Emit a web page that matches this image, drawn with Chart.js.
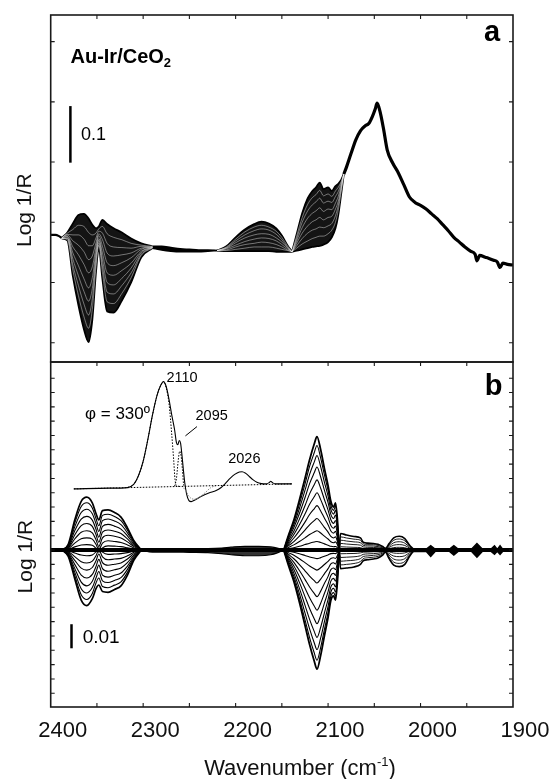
<!DOCTYPE html>
<html>
<head>
<meta charset="utf-8">
<script src="https://cdn.jsdelivr.net/npm/chart.js@4.4.1/dist/chart.umd.min.js"></script>
<style>
  html, body { margin: 0; padding: 0; background: #fff; }
  #wrap { position: relative; width: 552px; height: 779px; }
  #wrap canvas { position: absolute; left: 0; top: 0; }
</style>
</head>
<body>
<div id="wrap">
  <canvas id="panelA" width="552" height="779"></canvas>
  <canvas id="panelB" width="552" height="779"></canvas>
</div>
<script>
// ---- axes ----
const xTickLabels = [2400, 2300, 2200, 2100, 2000, 1900];
const xMinorTicks = [2350, 2300, 2250, 2200, 2150, 2100, 2050, 2000, 1950];
const aTicks = [-2, -1, 0, 1, 2, 3];
const bTicks = [-10, -9, -8, -7, -6, -5, -4, -3, -2, -1, 0, 1, 2, 3, 4, 5, 6, 7, 8, 9, 10, 11, 12];

// ---- panel a (Log 1/R, arbitrary tick units) ----
const aLeftWn = [2400, 2395, 2391, 2388];
const aLeftVal = [-0.21, -0.21, -0.23, -0.26];

const aBandAWn = [2388, 2382, 2376, 2370, 2364, 2359, 2355, 2351, 2348, 2344, 2339, 2332, 2323, 2313, 2302, 2290];
const aBandATop = [-0.26, -0.17, -0.02, 0.12, 0.14, 0.06, -0.04, -0.10, -0.07, 0.04, -0.03, -0.10, -0.17, -0.27, -0.35, -0.40];
const aBandABottom = [-0.27, -0.30, -0.90, -1.38, -1.78, -1.99, -1.62, -0.82, -0.42, -0.95, -1.48, -1.50, -1.30, -1.00, -0.58, -0.43];
const aBandAInner = [
  [-0.26, -0.18, -0.12, -0.05, -0.07, -0.17, -0.21, -0.18, -0.11, -0.07, -0.19, -0.25, -0.29, -0.35, -0.38, -0.40],
  [-0.26, -0.20, -0.21, -0.21, -0.28, -0.39, -0.39, -0.26, -0.15, -0.18, -0.35, -0.41, -0.42, -0.43, -0.40, -0.41],
  [-0.26, -0.21, -0.31, -0.38, -0.49, -0.62, -0.56, -0.34, -0.19, -0.29, -0.51, -0.56, -0.54, -0.51, -0.43, -0.41],
  [-0.26, -0.23, -0.41, -0.54, -0.70, -0.84, -0.74, -0.42, -0.22, -0.40, -0.67, -0.72, -0.67, -0.59, -0.45, -0.41],
  [-0.27, -0.24, -0.51, -0.72, -0.94, -1.09, -0.92, -0.50, -0.27, -0.51, -0.84, -0.88, -0.80, -0.68, -0.48, -0.42],
  [-0.27, -0.26, -0.61, -0.89, -1.15, -1.31, -1.10, -0.58, -0.30, -0.62, -1.00, -1.04, -0.93, -0.76, -0.50, -0.42],
  [-0.27, -0.27, -0.71, -1.05, -1.36, -1.54, -1.27, -0.66, -0.34, -0.73, -1.16, -1.19, -1.05, -0.84, -0.53, -0.42],
  [-0.27, -0.29, -0.80, -1.22, -1.57, -1.76, -1.45, -0.74, -0.38, -0.84, -1.32, -1.35, -1.18, -0.92, -0.55, -0.43]
];

const aMidWn = [2290, 2280, 2270, 2260, 2250, 2240, 2230, 2220];
const aMidTop = [-0.40, -0.40, -0.42, -0.44, -0.45, -0.46, -0.46, -0.47];
const aMidBottom = [-0.43, -0.46, -0.48, -0.49, -0.49, -0.49, -0.48, -0.47];

const aBandBWn = [2220, 2210, 2200, 2190, 2180, 2172, 2164, 2156, 2150, 2144, 2139];
const aBandBTop = [-0.47, -0.40, -0.25, -0.12, -0.03, 0.01, -0.02, -0.10, -0.22, -0.38, -0.49];
const aBandBBottom = [-0.47, -0.48, -0.48, -0.48, -0.48, -0.48, -0.48, -0.49, -0.49, -0.49, -0.49];
const aBandBInner = [
  [-0.47, -0.47, -0.45, -0.43, -0.41, -0.41, -0.41, -0.43, -0.45, -0.47, -0.49],
  [-0.47, -0.46, -0.41, -0.37, -0.35, -0.33, -0.34, -0.37, -0.41, -0.46, -0.49],
  [-0.47, -0.44, -0.38, -0.32, -0.28, -0.26, -0.27, -0.31, -0.37, -0.44, -0.49],
  [-0.47, -0.43, -0.34, -0.26, -0.21, -0.19, -0.20, -0.26, -0.33, -0.42, -0.49],
  [-0.47, -0.42, -0.31, -0.21, -0.14, -0.11, -0.13, -0.20, -0.29, -0.41, -0.49],
  [-0.47, -0.41, -0.28, -0.16, -0.08, -0.05, -0.08, -0.15, -0.25, -0.39, -0.49]
];

const aBandCWn = [2139, 2134, 2128, 2122, 2117, 2113, 2109, 2105, 2100, 2096, 2092, 2089, 2086, 2083];
const aBandCTop = [-0.49, -0.20, 0.15, 0.40, 0.52, 0.58, 0.66, 0.55, 0.58, 0.52, 0.60, 0.64, 0.70, 0.80];
const aBandCBottom = [-0.49, -0.47, -0.45, -0.43, -0.41, -0.40, -0.39, -0.37, -0.33, -0.25, -0.10, 0.12, 0.45, 0.80];
const aBandCInner = [
  [-0.49, -0.43, -0.36, -0.31, -0.27, -0.25, -0.23, -0.23, -0.19, -0.13, 0.00, 0.20, 0.49, 0.80],
  [-0.49, -0.39, -0.27, -0.18, -0.13, -0.11, -0.08, -0.09, -0.06, -0.02, 0.11, 0.28, 0.53, 0.80],
  [-0.49, -0.35, -0.18, -0.06, 0.01, 0.04, 0.08, 0.04, 0.08, 0.10, 0.22, 0.35, 0.56, 0.80],
  [-0.49, -0.31, -0.09, 0.07, 0.15, 0.19, 0.24, 0.18, 0.22, 0.21, 0.32, 0.43, 0.60, 0.80],
  [-0.49, -0.27, 0.00, 0.19, 0.29, 0.34, 0.40, 0.32, 0.35, 0.33, 0.43, 0.51, 0.64, 0.80],
  [-0.49, -0.23, 0.08, 0.30, 0.41, 0.46, 0.53, 0.44, 0.47, 0.43, 0.52, 0.58, 0.67, 0.80]
];

const aRightWn = [2083, 2080, 2075, 2070, 2065, 2060, 2056, 2052, 2049, 2047, 2044, 2040, 2036, 2030, 2024, 2018, 2012, 2006, 2000, 1994,
  1988, 1982, 1976, 1970, 1964, 1958, 1952, 1946, 1941, 1939, 1936, 1930, 1926, 1921, 1917, 1914, 1911, 1906, 1900];
const aRightVal = [0.80, 0.92, 1.15, 1.37, 1.52, 1.60, 1.64, 1.76, 1.88, 1.98, 1.85, 1.55, 1.20, 0.98, 0.82, 0.62, 0.42, 0.33, 0.28, 0.22,
  0.14, 0.06, -0.04, -0.14, -0.25, -0.33, -0.41, -0.48, -0.53, -0.64, -0.55, -0.58, -0.60, -0.63, -0.66, -0.75, -0.68, -0.70, -0.71];

// ---- panel b ----
const bZeroWn = [2400, 1900];
const bZeroVal = [0, 0];

const bBandAWn = [2388, 2381, 2374, 2367, 2361, 2355, 2351, 2348, 2344, 2338, 2331, 2324, 2317, 2310, 2302];
const bBandAPos = [
  [0, 0.40, 2.10, 3.40, 3.69, 3.30, 2.55, 2.10, 2.75, 2.80, 2.62, 2.30, 1.55, 0.65, 0],
  [0, 0.36, 1.88, 3.04, 3.30, 2.94, 2.20, 1.70, 2.42, 2.50, 2.35, 2.05, 1.39, 0.58, 0],
  [0, 0.31, 1.62, 2.62, 2.85, 2.54, 1.85, 1.30, 2.05, 2.17, 2.03, 1.77, 1.20, 0.51, 0],
  [0, 0.26, 1.34, 2.16, 2.35, 2.09, 1.45, 0.90, 1.66, 1.79, 1.67, 1.46, 0.99, 0.42, 0],
  [0, 0.20, 1.05, 1.70, 1.85, 1.65, 1.08, 0.55, 1.25, 1.40, 1.31, 1.15, 0.78, 0.33, 0],
  [0, 0.15, 0.77, 1.24, 1.35, 1.20, 0.72, 0.25, 0.85, 1.03, 0.96, 0.84, 0.57, 0.24, 0],
  [0, 0.09, 0.48, 0.78, 0.85, 0.76, 0.40, 0.02, 0.48, 0.65, 0.60, 0.53, 0.36, 0.15, 0],
  [0, 0.04, 0.22, 0.35, 0.38, 0.34, 0.12, -0.15, 0.15, 0.29, 0.27, 0.24, 0.16, 0.07, 0]
];
const bBandANeg = [
  [0, -0.45, -2.00, -3.50, -3.88, -3.40, -2.70, -2.44, -2.90, -2.95, -2.75, -2.50, -1.75, -0.70, 0],
  [0, -0.40, -1.78, -3.12, -3.45, -3.03, -2.30, -1.95, -2.55, -2.63, -2.45, -2.22, -1.56, -0.62, 0],
  [0, -0.35, -1.54, -2.70, -3.00, -2.62, -1.95, -1.50, -2.15, -2.27, -2.12, -1.93, -1.35, -0.54, 0],
  [0, -0.29, -1.28, -2.24, -2.50, -2.18, -1.55, -1.05, -1.75, -1.89, -1.76, -1.60, -1.12, -0.45, 0],
  [0, -0.23, -1.00, -1.75, -1.95, -1.70, -1.15, -0.65, -1.30, -1.48, -1.38, -1.25, -0.88, -0.35, 0],
  [0, -0.16, -0.72, -1.26, -1.40, -1.22, -0.75, -0.28, -0.88, -1.06, -0.99, -0.90, -0.63, -0.25, 0],
  [0, -0.10, -0.46, -0.81, -0.90, -0.78, -0.40, 0.02, -0.48, -0.68, -0.63, -0.58, -0.40, -0.16, 0],
  [0, -0.05, -0.20, -0.35, -0.40, -0.34, -0.12, 0.15, -0.15, -0.30, -0.28, -0.25, -0.18, -0.07, 0]
];

const bMidWn = [2302, 2290, 2270, 2250, 2230, 2215, 2205, 2190, 2175, 2162, 2155, 2148];
const bMidTop = [0, 0.10, 0.10, 0.09, 0.10, 0.14, 0.20, 0.26, 0.26, 0.22, 0.14, 0];
const bMidBottom = [0, -0.14, -0.14, -0.16, -0.18, -0.25, -0.33, -0.40, -0.40, -0.33, -0.20, 0];

const b2110Wn = [2148, 2143, 2137, 2131, 2125, 2120, 2115, 2112, 2108, 2104, 2100, 2097, 2094, 2092, 2090, 2088];
const b2110Pos = [
  [0, 1.00, 2.10, 3.50, 5.00, 6.30, 7.40, 7.92, 7.00, 5.70, 4.50, 3.40, 3.00, 3.30, 2.20, 0],
  [0, 0.95, 1.97, 3.21, 4.60, 5.84, 6.79, 7.30, 6.42, 5.26, 4.16, 3.14, 2.77, 3.07, 2.04, 0],
  [0, 0.86, 1.78, 2.90, 4.16, 5.28, 6.14, 6.60, 5.81, 4.75, 3.76, 2.84, 2.51, 2.77, 1.85, 0],
  [0, 0.75, 1.57, 2.55, 3.65, 4.64, 5.39, 5.80, 5.10, 4.18, 3.31, 2.49, 2.20, 2.44, 1.62, 0],
  [0, 0.64, 1.32, 2.16, 3.09, 3.92, 4.56, 4.90, 4.31, 3.53, 2.79, 2.11, 1.86, 2.06, 1.37, 0],
  [0, 0.52, 1.08, 1.76, 2.52, 3.20, 3.72, 4.00, 3.52, 2.88, 2.28, 1.72, 1.52, 1.68, 1.12, 0],
  [0, 0.40, 0.84, 1.36, 1.95, 2.48, 2.88, 3.10, 2.73, 2.23, 1.77, 1.33, 1.18, 1.30, 0.87, 0],
  [0, 0.29, 0.59, 0.97, 1.39, 1.76, 2.05, 2.20, 1.94, 1.58, 1.25, 0.95, 0.84, 0.92, 0.62, 0],
  [0, 0.18, 0.36, 0.59, 0.85, 1.08, 1.26, 1.35, 1.19, 0.97, 0.77, 0.58, 0.51, 0.57, 0.38, 0],
  [0, 0.08, 0.16, 0.26, 0.38, 0.48, 0.56, 0.60, 0.53, 0.43, 0.34, 0.26, 0.23, 0.25, 0.17, 0]
];
const b2110Neg = [
  [0, -1.05, -2.20, -3.65, -5.25, -6.60, -7.75, -8.32, -7.35, -6.00, -4.70, -3.50, -3.20, -3.50, -2.30, 0],
  [0, -0.97, -2.03, -3.38, -4.86, -6.11, -7.17, -7.70, -6.80, -5.55, -4.35, -3.24, -2.96, -3.24, -2.13, 0],
  [0, -0.88, -1.84, -3.05, -4.39, -5.51, -6.47, -6.95, -6.14, -5.01, -3.93, -2.93, -2.67, -2.93, -1.92, 0],
  [0, -0.77, -1.61, -2.68, -3.85, -4.84, -5.68, -6.10, -5.39, -4.40, -3.45, -2.57, -2.35, -2.57, -1.68, 0],
  [0, -0.65, -1.36, -2.26, -3.25, -4.08, -4.79, -5.15, -4.55, -3.71, -2.91, -2.17, -1.98, -2.17, -1.42, 0],
  [0, -0.53, -1.11, -1.84, -2.65, -3.33, -3.91, -4.20, -3.71, -3.03, -2.37, -1.77, -1.62, -1.77, -1.16, 0],
  [0, -0.41, -0.86, -1.43, -2.05, -2.58, -3.03, -3.25, -2.87, -2.34, -1.84, -1.37, -1.25, -1.37, -0.90, 0],
  [0, -0.29, -0.61, -1.01, -1.45, -1.82, -2.14, -2.30, -2.03, -1.66, -1.30, -0.97, -0.89, -0.97, -0.63, 0],
  [0, -0.18, -0.37, -0.61, -0.88, -1.11, -1.30, -1.40, -1.24, -1.01, -0.79, -0.59, -0.54, -0.59, -0.39, 0],
  [0, -0.08, -0.16, -0.26, -0.38, -0.48, -0.56, -0.60, -0.53, -0.43, -0.34, -0.25, -0.23, -0.25, -0.17, 0]
];

const bRightWn = [2088, 2086.5, 2080, 2072, 2065, 2062, 2057, 2051, 2046, 2041, 2038, 2034, 2029, 2023, 2017, 2012, 2008];
const bRightPos = [
  [0, 1.15, 1.05, 0.95, 0.85, 0.55, 0.48, 0.46, 0.40, 0.25, 0.12, 0.45, 0.85, 0.96, 0.80, 0.35, 0.08],
  [0, 0.92, 0.84, 0.76, 0.68, 0.44, 0.38, 0.37, 0.32, 0.20, 0.10, 0.36, 0.68, 0.77, 0.64, 0.28, 0.06],
  [0, 0.69, 0.63, 0.57, 0.51, 0.33, 0.29, 0.28, 0.24, 0.15, 0.07, 0.27, 0.51, 0.58, 0.48, 0.21, 0.05],
  [0, 0.46, 0.42, 0.38, 0.34, 0.22, 0.19, 0.18, 0.16, 0.10, 0.05, 0.18, 0.34, 0.38, 0.32, 0.14, 0.03],
  [0, 0.23, 0.21, 0.19, 0.17, 0.11, 0.10, 0.09, 0.08, 0.05, 0.02, 0.09, 0.17, 0.19, 0.16, 0.07, 0.02]
];
const bRightNeg = [
  [0, -1.30, -1.25, -1.18, -1.00, -0.75, -0.68, -0.62, -0.55, -0.35, -0.15, -0.60, -1.05, -1.16, -1.00, -0.45, -0.10],
  [0, -1.04, -1.00, -0.94, -0.80, -0.60, -0.54, -0.50, -0.44, -0.28, -0.12, -0.48, -0.84, -0.93, -0.80, -0.36, -0.08],
  [0, -0.78, -0.75, -0.71, -0.60, -0.45, -0.41, -0.37, -0.33, -0.21, -0.09, -0.36, -0.63, -0.70, -0.60, -0.27, -0.06],
  [0, -0.52, -0.50, -0.47, -0.40, -0.30, -0.27, -0.25, -0.22, -0.14, -0.06, -0.24, -0.42, -0.46, -0.40, -0.18, -0.04],
  [0, -0.26, -0.25, -0.24, -0.20, -0.15, -0.14, -0.12, -0.11, -0.07, -0.03, -0.12, -0.21, -0.23, -0.20, -0.09, -0.02]
];

const bTailWn = [2008, 1994, 1989, 1984, 1969, 1964, 1959, 1945, 1939, 1933, 1924, 1920, 1917, 1914, 1911, 1900];
const bTailTop = [0.08, 0.05, 0.30, 0.05, 0.05, 0.30, 0.05, 0.05, 0.45, 0.05, 0.05, 0.30, 0.05, 0.30, 0.05, 0.05];
const bTailBottom = [-0.10, -0.08, -0.45, -0.08, -0.08, -0.35, -0.08, -0.08, -0.50, -0.08, -0.08, -0.30, -0.08, -0.30, -0.08, -0.05];

// inset (phi = 330 deg spectrum), plotted against its own wavenumber axis
const bInsetWn = [2208, 2170, 2150, 2143, 2138, 2133, 2128, 2123, 2118, 2114, 2111, 2108, 2105, 2102, 2099, 2097, 2095.5, 2094, 2092.5,
  2091, 2089.5, 2088, 2086, 2083.5, 2081, 2077, 2070, 2062, 2054, 2049, 2044, 2039, 2034, 2029, 2026, 2022, 2018, 2014, 2010, 2005,
  2000, 1996.5, 1995, 1993, 1990, 1972];
const bInsetVal = [4.27, 4.32, 4.36, 4.6, 5.2, 6.2, 7.7, 9.4, 10.8, 11.5, 11.76, 11.4, 10.5, 9.4, 8.4, 7.5, 7.35, 7.65, 7.45,
  6.6, 5.6, 4.7, 3.9, 3.45, 3.38, 3.5, 3.75, 3.98, 4.15, 4.35, 4.66, 5.0, 5.28, 5.45, 5.47, 5.35, 5.12, 4.9, 4.73, 4.64,
  4.62, 4.72, 4.8, 4.7, 4.62, 4.62];
const bInsetBaseWn = [2208, 1972];
const bInsetBaseVal = [4.27, 4.62];
const bFit2110Wn = [2150, 2143, 2138, 2133, 2128, 2123, 2118, 2114, 2111, 2108, 2105, 2102, 2100, 2098.5, 2097, 2094];
const bFit2110Val = [4.36, 4.6, 5.2, 6.2, 7.7, 9.4, 10.8, 11.5, 11.76, 11.3, 10.2, 8.0, 6.3, 4.9, 4.5, 4.45];
const bFit2095Wn = [2099, 2097, 2095, 2093.5, 2092, 2090.5, 2089, 2087.5];
const bFit2095Val = [4.45, 5.0, 6.3, 6.9, 6.6, 5.6, 4.5, 4.47];
const bFitNegWn = [2091, 2087, 2084, 2081, 2077, 2072, 2066, 2060, 2054];
const bFitNegVal = [4.46, 4.15, 3.8, 3.6, 3.55, 3.7, 4.0, 4.35, 4.5];

// ---- helpers ----
const fam = '"Liberation Sans", Arial, Helvetica, sans-serif';

function pts(wn, vals) { return wn.map((w, i) => ({ x: w, y: vals[i] })); }

function curve(wn, vals, extra) {
  return Object.assign({
    data: pts(wn, vals),
    borderColor: '#000',
    borderWidth: 1,
    pointRadius: 0,
    fill: false,
    cubicInterpolationMode: 'monotone'
  }, extra || {});
}

// dense families in panel a: envelope filled dark, inner spectra show as pale streaks
// (order -1 puts the streaks above the fill)
function addBand(set, wn, top, bottom, inner, edge, innerW, fillColor, innerColor) {
  const t = set.length;
  set.push(curve(wn, top, { borderWidth: edge }));
  set.push(curve(wn, bottom, { borderWidth: edge, fill: { target: t }, backgroundColor: fillColor }));
  inner.forEach(v => set.push(curve(wn, v, { borderWidth: innerW, borderColor: innerColor || '#000', order: -1 })));
}

function addFamily(set, wn, list, outerW, innerW) {
  list.forEach((v, i) => set.push(curve(wn, v, { borderWidth: i === 0 ? outerW : innerW })));
}

function drawRich(ctx, parts, x, y, align) {
  let w = 0;
  parts.forEach(p => { ctx.font = p.font + ' ' + fam; w += ctx.measureText(p.t).width; });
  let cx = align === 'center' ? x - w / 2 : x;
  parts.forEach(p => {
    ctx.font = p.font + ' ' + fam;
    ctx.fillText(p.t, cx, y + (p.dy || 0));
    cx += ctx.measureText(p.t).width;
  });
}

const panelDecor = {
  id: 'panelDecor',
  afterDatasetsDraw(chart, args, o) {
    const { ctx, chartArea: a } = chart;
    const sx = chart.scales.x, sy = chart.scales.y;
    ctx.save();
    ctx.strokeStyle = '#1a1a1a';
    ctx.lineWidth = 1.1;
    ctx.beginPath();
    o.yTicks.forEach(v => {
      const py = sy.getPixelForValue(v);
      ctx.moveTo(a.left, py); ctx.lineTo(a.left + 4, py);
      ctx.moveTo(a.right, py); ctx.lineTo(a.right - 4, py);
    });
    xMinorTicks.forEach(w => {
      const px = sx.getPixelForValue(w);
      if (o.top) { ctx.moveTo(px, a.top); ctx.lineTo(px, a.top + 4); }
      if (o.bottom) { ctx.moveTo(px, a.bottom); ctx.lineTo(px, a.bottom - 4); }
    });
    ctx.stroke();
    ctx.lineWidth = 1.6;
    ctx.strokeRect(a.left, a.top, a.right - a.left, a.bottom - a.top);

    // scale bar and leader lines
    ctx.strokeStyle = '#000';
    (o.lines || []).forEach(l => {
      ctx.lineWidth = l.w;
      ctx.beginPath();
      ctx.moveTo(sx.getPixelForValue(l.x1), sy.getPixelForValue(l.y1));
      ctx.lineTo(sx.getPixelForValue(l.x2), sy.getPixelForValue(l.y2));
      ctx.stroke();
    });

    ctx.fillStyle = '#000';
    (o.texts || []).forEach(t => {
      ctx.textBaseline = t.baseline || 'middle';
      ctx.textAlign = 'left';
      drawRich(ctx, t.parts, sx.getPixelForValue(t.x), sy.getPixelForValue(t.y), t.align);
    });

    // y axis title
    ctx.save();
    ctx.translate(o.yTitle.px, sy.getPixelForValue(o.yTitle.y));
    ctx.rotate(-Math.PI / 2);
    ctx.font = '21px ' + fam;
    ctx.textAlign = 'center';
    ctx.textBaseline = 'middle';
    ctx.fillStyle = '#111';
    ctx.fillText('Log 1/R', 0, 0);
    ctx.restore();

    if (o.xTitle) {
      ctx.fillStyle = '#111';
      ctx.textBaseline = 'alphabetic';
      drawRich(ctx, [
        { t: 'Wavenumber (cm', font: '22px' },
        { t: '-1', font: '13px', dy: -9 },
        { t: ')', font: '22px' }
      ], sx.getPixelForValue(o.xTitle.x), o.xTitle.py, 'center');
    }
    ctx.restore();
  }
};

// ---- panel a ----
const streak = 'rgba(255,255,255,0.6)';
const aSets = [];
aSets.push(curve(aLeftWn, aLeftVal, { borderWidth: 2.2 }));
addBand(aSets, aBandAWn, aBandATop, aBandABottom, aBandAInner, 1.8, 0.7, 'rgba(0,0,0,0.92)', streak);
addBand(aSets, aMidWn, aMidTop, aMidBottom, [], 1.6, 0.8, '#000');
addBand(aSets, aBandBWn, aBandBTop, aBandBBottom, aBandBInner, 1.8, 0.7, 'rgba(0,0,0,0.92)', streak);
addBand(aSets, aBandCWn, aBandCTop, aBandCBottom, aBandCInner, 1.8, 0.7, 'rgba(0,0,0,0.92)', streak);
aSets.push(curve(aRightWn, aRightVal, { borderWidth: 3.2 }));

new Chart(document.getElementById('panelA'), {
  type: 'line',
  data: { datasets: aSets },
  options: {
    animation: false,
    responsive: false,
    devicePixelRatio: 1,
    events: [],
    layout: { padding: { left: 50.7, right: 39, top: 15, bottom: 417 } },
    scales: {
      x: { type: 'linear', min: 1900, max: 2400, reverse: true, display: false },
      y: { type: 'linear', min: -2.321, max: 3.443, display: false }
    },
    plugins: {
      legend: { display: false },
      tooltip: { enabled: false },
      panelDecor: {
        yTicks: aTicks,
        top: true,
        bottom: false,
        yTitle: { px: 25, y: 0.2 },
        lines: [{ x1: 2378.7, y1: 0.99, x2: 2378.7, y2: 1.93, w: 2.5 }],
        texts: [
          { parts: [{ t: 'a', font: 'bold 29px' }], x: 1922.7, y: 3.14, align: 'center' },
          { parts: [{ t: 'Au-Ir/CeO', font: 'bold 20px' }, { t: '2', font: 'bold 13px', dy: 4 }], x: 2378.6, y: 2.65, baseline: 'alphabetic' },
          { parts: [{ t: '0.1', font: '18px' }], x: 2367.2, y: 1.45 }
        ]
      }
    }
  },
  plugins: [panelDecor]
});

// ---- panel b ----
const bSets = [];
bSets.push(curve(bZeroWn, bZeroVal, { borderWidth: 4 }));
addFamily(bSets, bBandAWn, bBandAPos, 1.7, 1.1);
addFamily(bSets, bBandAWn, bBandANeg, 1.7, 1.1);
addBand(bSets, bMidWn, bMidTop, bMidBottom, [], 1.2, 0.8, 'rgba(0,0,0,0.8)');
addFamily(bSets, b2110Wn, b2110Pos, 1.8, 1.1);
addFamily(bSets, b2110Wn, b2110Neg, 1.8, 1.1);
addFamily(bSets, bRightWn, bRightPos, 1.6, 0.9);
addFamily(bSets, bRightWn, bRightNeg, 1.6, 0.9);
{
  const t = bSets.length;
  bSets.push(curve(bTailWn, bTailTop, { borderWidth: 1.4, cubicInterpolationMode: 'default', tension: 0 }));
  bSets.push(curve(bTailWn, bTailBottom, { borderWidth: 1.4, cubicInterpolationMode: 'default', tension: 0, fill: { target: t }, backgroundColor: '#000' }));
}
bSets.push(curve(bInsetBaseWn, bInsetBaseVal, { xAxisID: 'x2', borderWidth: 1, borderDash: [1.5, 1.5] }));
bSets.push(curve(bFit2110Wn, bFit2110Val, { xAxisID: 'x2', borderWidth: 1, borderDash: [1.5, 1.5] }));
bSets.push(curve(bFit2095Wn, bFit2095Val, { xAxisID: 'x2', borderWidth: 1, borderDash: [1.5, 1.5] }));
bSets.push(curve(bFitNegWn, bFitNegVal, { xAxisID: 'x2', borderWidth: 1, borderColor: '#888', borderDash: [1.5, 1.2] }));
bSets.push(curve(bInsetWn, bInsetVal, { xAxisID: 'x2', borderWidth: 1.1 }));

new Chart(document.getElementById('panelB'), {
  type: 'line',
  data: { datasets: bSets },
  options: {
    animation: false,
    responsive: false,
    devicePixelRatio: 1,
    events: [],
    layout: { padding: { left: 50.7, right: 39, top: 362, bottom: 32 } },
    scales: {
      x: {
        type: 'linear', min: 1900, max: 2400, reverse: true, position: 'bottom',
        afterBuildTicks: s => { s.ticks = xTickLabels.map(v => ({ value: v })); },
        afterFit: s => { s.height = 40; },
        grid: { display: false, drawTicks: false },
        border: { display: false },
        ticks: {
          callback: v => String(v),
          font: { family: fam, size: 22 },
          color: '#111',
          padding: 11,
          labelOffset: 12,
          maxRotation: 0,
          autoSkip: false
        }
      },
      x2: { type: 'linear', axis: 'x', min: 1733, max: 2233, reverse: true, display: false },
      y: { type: 'linear', min: -10.96, max: 13.13, display: false }
    },
    plugins: {
      legend: { display: false },
      tooltip: { enabled: false },
      panelDecor: {
        yTicks: bTicks,
        top: true,
        bottom: true,
        yTitle: { px: 26, y: -0.46 },
        xTitle: { x: 2130.4, py: 775 },
        lines: [
          { x1: 2377.5, y1: -5.18, x2: 2377.5, y2: -6.86, w: 2.5 },
          { x1: 2254.3, y1: 7.97, x2: 2241.8, y2: 8.62, w: 1 }
        ],
        texts: [
          { parts: [{ t: 'b', font: 'bold 29px' }], x: 1920.9, y: 11.39, align: 'center' },
          { parts: [{ t: '2110', font: '14.5px' }], x: 2258, y: 12.02, align: 'center' },
          { parts: [{ t: '2095', font: '14.5px' }], x: 2225.9, y: 9.36, align: 'center' },
          { parts: [{ t: '2026', font: '14.5px' }], x: 2190.6, y: 6.34, align: 'center' },
          { parts: [{ t: 'φ = 330º', font: '17px' }], x: 2362.9, y: 9.5 },
          { parts: [{ t: '0.01', font: '19px' }], x: 2365.4, y: -6.16 }
        ]
      }
    }
  },
  plugins: [panelDecor]
});
</script>
</body>
</html>
